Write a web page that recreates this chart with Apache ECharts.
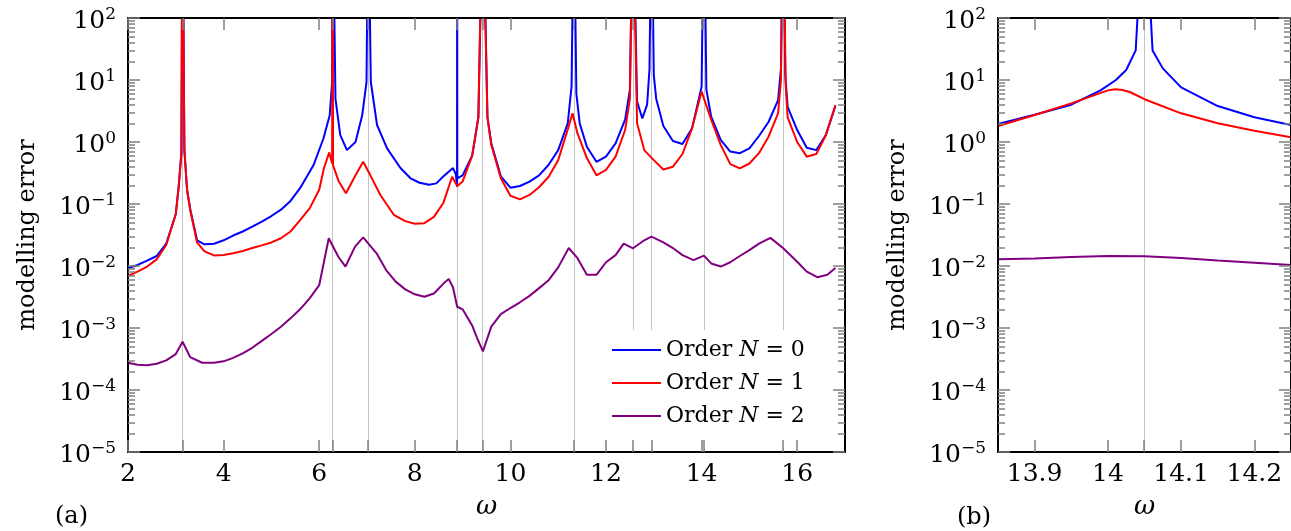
<!DOCTYPE html>
<html>
<head>
<meta charset="utf-8">
<script src="https://cdn.jsdelivr.net/npm/echarts@6/dist/echarts.min.js"></script>
<style>
  html, body { margin: 0; padding: 0; background: #fff; }
  #chart { width: 1291px; height: 531px; }
</style>
</head>
<body>
<div id="chart"></div>
<script>
// Resonance frequencies marked by grey guide lines
const resonances = [3.1416, 6.2832, 7.0248, 8.8858, 9.4248, 11.3272, 12.5664, 12.9531, 14.0496, 15.708];

// Panel (a): modelling error over the full frequency sweep, [omega, error]
const sweepN0 = [
  [2.0,0.0092],[2.2,0.0104],[2.4,0.0122],[2.6,0.0145],[2.8,0.023],[3.0,0.069],[3.06,0.19],[3.117,0.66],
  [3.1416,1e4],[3.18,0.74],[3.236,0.168],[3.305,0.08],[3.445,0.026],[3.6,0.0224],[3.8,0.0229],[4.0,0.026],
  [4.2,0.031],[4.4,0.036],[4.6,0.043],[4.8,0.052],[5.0,0.064],[5.2,0.081],[5.4,0.112],[5.6,0.18],[5.885,0.43],
  [6.09,1.15],[6.22,2.7],[6.27,9.3],[6.2832,1e4],[6.34,5],[6.44,1.3],[6.58,0.74],[6.76,1.0],[6.9,2.7],
  [6.99,9.3],[7.0248,1e4],[7.08,9.3],[7.21,1.88],[7.42,0.79],[7.7,0.38],[7.91,0.26],[8.1,0.22],[8.3,0.205],
  [8.45,0.215],[8.6,0.28],[8.8,0.38],[8.86,0.30],[8.884,0.19],[8.8858,1e4],[8.89,0.26],
  [9.0,0.29],[9.2,0.6],[9.33,2.5],[9.4248,1e4],[9.52,2.5],[9.6,0.95],[9.8,0.28],[10.0,0.183],[10.2,0.195],
  [10.4,0.23],[10.6,0.29],[10.8,0.43],[11.0,0.74],[11.2,2.0],[11.28,8],[11.3272,1e4],[11.38,6],[11.45,2.0],
  [11.6,0.84],[11.8,0.48],[12.0,0.58],[12.2,0.95],[12.4,2.3],[12.5,7],[12.5664,1e4],[12.65,4.5],[12.76,2.4],
  [12.86,4],[12.91,15],[12.9531,1e4],[13.0,12],[13.05,5],[13.2,1.81],[13.4,1.04],[13.6,0.93],[13.8,1.66],
  [14.0,7.8],[14.0496,1e4],[14.1,7],[14.2,2.56],[14.4,1.08],[14.6,0.70],[14.8,0.66],[15.0,0.79],[15.2,1.25],
  [15.4,2.1],[15.6,4.75],[15.66,15],[15.708,1e4],[15.75,12],[15.8,3.7],[16.0,1.56],[16.2,0.81],[16.4,0.74],
  [16.6,1.3],[16.8,3.8]
];
const sweepN1 = [
  [2.0,0.0069],[2.2,0.0081],[2.4,0.0098],[2.6,0.0128],[2.8,0.0218],[3.0,0.069],[3.06,0.19],[3.117,0.66],
  [3.135,1e4],[3.148,1e4],[3.18,0.74],[3.236,0.168],[3.305,0.078],[3.445,0.024],[3.6,0.0172],[3.8,0.0148],
  [4.0,0.015],[4.2,0.016],[4.4,0.0175],[4.6,0.0195],[4.8,0.0215],[5.0,0.024],[5.2,0.028],[5.4,0.036],
  [5.6,0.055],[5.8,0.085],[6.0,0.17],[6.1,0.38],[6.21,0.68],[6.27,0.45],[6.2832,1e4],[6.29,0.42],[6.41,0.23],
  [6.56,0.149],[6.76,0.29],[6.92,0.48],[7.07,0.29],[7.28,0.14],[7.56,0.067],[7.8,0.053],[8.0,0.048],[8.2,0.049],
  [8.4,0.062],[8.6,0.105],[8.78,0.275],[8.89,0.195],[9.0,0.23],[9.2,0.6],[9.33,2.5],[9.418,1e4],[9.432,1e4],
  [9.52,2.5],[9.6,0.9],[9.8,0.26],[10.0,0.136],[10.2,0.119],[10.4,0.14],[10.6,0.186],[10.8,0.275],[11.0,0.51],
  [11.2,1.6],[11.3,2.9],[11.4,1.4],[11.6,0.55],[11.8,0.29],[12.0,0.355],[12.2,0.58],[12.4,1.56],[12.5,5],
  [12.56,1e4],[12.573,1e4],[12.65,2],[12.8,0.74],[13.0,0.51],[13.2,0.36],[13.4,0.40],[13.6,0.64],[13.8,1.66],
  [14.0,6.5],[14.2,2.3],[14.4,0.9],[14.6,0.44],[14.8,0.376],[15.0,0.45],[15.2,0.66],[15.4,1.22],[15.6,2.9],
  [15.66,10],[15.702,1e4],[15.715,1e4],[15.76,8],[15.8,2.5],[16.0,1.0],[16.2,0.58],[16.4,0.64],[16.6,1.3],
  [16.8,3.95]
];
const sweepN2 = [
  [2.0,2.75e-4],[2.2,2.55e-4],[2.4,2.5e-4],[2.6,2.65e-4],[2.8,3.0e-4],[3.0,3.8e-4],[3.1416,6.0e-4],[3.3,3.4e-4],
  [3.55,2.75e-4],[3.8,2.75e-4],[4.0,2.9e-4],[4.2,3.3e-4],[4.4,3.9e-4],[4.6,4.8e-4],[4.8,6.2e-4],[5.0,8.0e-4],
  [5.2,0.00105],[5.4,0.00143],[5.6,0.0020],[5.8,0.0030],[6.0,0.0049],[6.2,0.028],[6.4,0.0141],[6.55,0.0098],
  [6.75,0.0205],[6.92,0.029],[7.2,0.016],[7.4,0.0086],[7.6,0.0056],[7.8,0.0042],[8.0,0.0035],[8.2,0.0032],
  [8.4,0.0036],[8.6,0.0052],[8.71,0.0062],[8.8,0.0045],[8.886,0.0022],[9.0,0.0020],[9.2,0.0011],[9.3,7e-4],
  [9.4248,4.2e-4],[9.6,0.00105],[9.8,0.00168],[10.0,0.0021],[10.2,0.0026],[10.4,0.0033],[10.6,0.0044],
  [10.8,0.0059],[11.0,0.0095],[11.22,0.0195],[11.4,0.0135],[11.6,0.0072],[11.8,0.0072],[12.0,0.0115],
  [12.2,0.0150],[12.37,0.023],[12.566,0.0193],[12.8,0.026],[12.95,0.0297],[13.2,0.024],[13.4,0.0195],
  [13.6,0.0150],[13.83,0.0124],[14.05,0.0147],[14.2,0.011],[14.4,0.0098],[14.6,0.0115],[14.8,0.0145],
  [15.0,0.018],[15.2,0.023],[15.44,0.0284],[15.708,0.0193],[16.0,0.0117],[16.2,0.0081],[16.42,0.0066],
  [16.63,0.0072],[16.8,0.0093]
];

// Panel (b): close-up around omega = 14.05, [omega, error]
const zoomN0 = [
  [13.85,1.95],[13.9,2.75],[13.95,4.0],[13.99,6.8],[14.011,10],[14.025,14.5],[14.038,30],[14.0496,1e4],
  [14.061,30],[14.075,15.4],[14.1,7.6],[14.15,3.8],[14.2,2.5],[14.25,1.88]
];
const zoomN1 = [
  [13.85,1.81],[13.9,2.72],[13.95,4.2],[14.0,6.8],[14.01,7.1],[14.02,6.9],[14.03,6.4],[14.05,4.9],
  [14.1,2.9],[14.15,2.0],[14.2,1.52],[14.25,1.19]
];
const zoomN2 = [
  [13.85,0.0128],[13.9,0.0132],[13.95,0.0140],[14.0,0.0145],[14.05,0.0143],[14.1,0.0135],[14.15,0.0123],
  [14.2,0.0113],[14.25,0.0104]
];

const sweepRange = [2, 17];
const zoomRange = [13.85, 14.25];
const sweepTicks = [2, 4, 6, 8, 10, 12, 14, 16];
const zoomTicks = [13.9, 14, 14.1, 14.2];
const decadeTicks = [1e-5, 1e-4, 1e-3, 1e-2, 1e-1, 1, 10, 100];
const seriesNames = ['Order N = 0', 'Order N = 1', 'Order N = 2'];
const seriesColors = ['#0000ff', '#ff0000', '#800080'];

const FONT = 'DejaVu Serif';
const TICK_GREY = '#808080';

const chart = echarts.init(document.getElementById('chart'), null, { renderer: 'canvas' });

function powerLabel(v) {
  const e = Math.round(Math.log10(v));
  const s = e < 0 ? '\u2212' + (-e) : String(e);
  return '{b|10}{s|' + s + '}';
}
const powerRich = {
  b: { fontFamily: FONT, fontSize: 25, lineHeight: 30, color: '#000' },
  s: { fontFamily: FONT, fontSize: 17, lineHeight: 16, verticalAlign: 'top', color: '#000' }
};

function xAxisPair(gridIndex, range, labels) {
  const [min, max] = range;
  const tickVals = labels.concat(resonances.filter(r => r > min && r < max));
  const common = {
    type: 'value', gridIndex, min, max, z: 6,
    axisLine: { show: true, lineStyle: { color: '#000', width: 2 } },
    axisTick: { show: true, inside: true, length: 12, customValues: tickVals, lineStyle: { color: TICK_GREY, width: 1.5 } },
    splitLine: { show: false }
  };
  return [
    Object.assign({}, common, {
      position: 'bottom',
      axisLabel: { show: true, customValues: labels, margin: 10, fontFamily: FONT, fontSize: 25, color: '#000' },
      name: '\u03c9', nameLocation: 'middle', nameGap: 42,
      nameTextStyle: { fontFamily: FONT, fontStyle: 'italic', fontSize: 26, color: '#000' }
    }),
    Object.assign({}, common, { position: 'top', axisLabel: { show: false } })
  ];
}

function yAxisPair(gridIndex) {
  const common = {
    type: 'log', logBase: 10, gridIndex, min: 1e-5, max: 100, splitNumber: 7, z: 6,
    axisLine: { show: true, lineStyle: { color: '#000', width: 2 } },
    axisTick: { show: true, inside: true, length: 12, customValues: decadeTicks, lineStyle: { color: TICK_GREY, width: 1.5 } },
    minorTick: { show: true, splitNumber: 9, length: 7, lineStyle: { color: TICK_GREY, width: 1.5 } },
    splitLine: { show: false }
  };
  return [
    Object.assign({}, common, {
      position: 'left',
      axisLabel: { show: true, customValues: decadeTicks, margin: 12, formatter: powerLabel, rich: powerRich, padding: [7, 0, 0, 0] },
      name: 'modelling error', nameLocation: 'middle', nameGap: 88, nameRotate: 90,
      nameTextStyle: { fontFamily: FONT, fontSize: 24, color: '#000' }
    }),
    Object.assign({}, common, { position: 'right', axisLabel: { show: false } })
  ];
}

function curves(xi, yi, sets) {
  return sets.map((d, i) => ({
    name: seriesNames[i], type: 'line', xAxisIndex: xi, yAxisIndex: yi,
    data: d, showSymbol: false, symbol: 'none', clip: true, z: 3 + i,
    lineStyle: { color: seriesColors[i], width: 2 }, itemStyle: { color: seriesColors[i] }
  }));
}

function guideLines(xi, yi, range) {
  return {
    type: 'line', xAxisIndex: xi, yAxisIndex: yi, data: [], z: 1, silent: true,
    markLine: {
      silent: true, symbol: 'none', z: 1, animation: false,
      label: { show: false },
      lineStyle: { color: '#c4c4c4', width: 1, type: 'solid' },
      data: resonances.filter(r => r > range[0] && r < range[1]).map(r => ({ xAxis: r }))
    }
  };
}

const option = {
  animation: false,
  backgroundColor: '#fff',
  grid: [
    { left: 128, top: 18, width: 717, height: 434 },
    { left: 998, top: 18, width: 294, height: 434 }
  ],
  xAxis: [].concat(xAxisPair(0, sweepRange, sweepTicks), xAxisPair(1, zoomRange, zoomTicks)),
  yAxis: [].concat(yAxisPair(0), yAxisPair(1)),
  legend: {
    data: seriesNames, orient: 'vertical', left: 600, top: 330,
    backgroundColor: '#fff', padding: [8, 16, 20, 12], itemGap: 9,
    icon: 'rect', itemWidth: 49, itemHeight: 2,
    formatter: n => n.replace('N', '{i|N}'),
    textStyle: {
      fontFamily: FONT, fontSize: 22, lineHeight: 24, color: '#000',
      rich: { i: { fontFamily: FONT, fontStyle: 'italic', fontSize: 22, lineHeight: 24, color: '#000' } }
    },
    selectedMode: false, z: 4
  },
  graphic: [
    { type: 'text', left: 55, top: 505, style: { text: '(a)', font: '24px "DejaVu Serif"', fill: '#000' } },
    { type: 'text', left: 957, top: 506, style: { text: '(b)', font: '24px "DejaVu Serif"', fill: '#000' } }
  ],
  series: [].concat(
    [guideLines(0, 0, sweepRange)],
    curves(0, 0, [sweepN0, sweepN1, sweepN2]),
    [guideLines(2, 2, zoomRange)],
    curves(2, 2, [zoomN0, zoomN1, zoomN2])
  )
};
chart.setOption(option);
</script>
</body>
</html>
